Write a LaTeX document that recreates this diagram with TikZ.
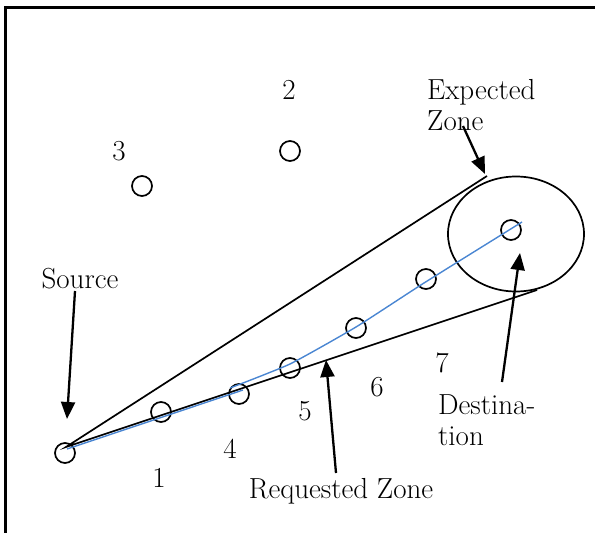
\documentclass[tikz,border=0pt]{standalone}
\usepackage{tikz}
\usetikzlibrary{arrows.meta,shapes.geometric}
\definecolor{routeblue}{RGB}{74,134,210}

\begin{document}
\begin{tikzpicture}[x=1pt,y=-1pt,
  host/.style={circle,draw,line width=1.7pt,minimum size=20pt,inner sep=0pt},
  lbl/.style={font=\fontsize{29}{31}\selectfont,inner sep=0pt},
  pointer/.style={line width=2.3pt,-{Triangle[length=17pt,width=14pt]}}]
\useasboundingbox (0,0) rectangle (595,533);
\begin{scope}
\clip (0,0) rectangle (595,533);
\draw[line width=3pt] (5,7) rectangle (640,580);
\end{scope}
\node[host] (src) at (65,453) {};
\node[host] (n1) at (161,412) {};
\node[host] (n4) at (239,394) {};
\node[host] (n5) at (290,368) {};
\node[host] (n6) at (356,328) {};
\node[host] (n7) at (426,279) {};
\node[host] (dst) at (511,230) {};
\node[host] (n3) at (142,186) {};
\node[host] (n2) at (290,151) {};
\node[draw,ellipse,line width=1.7pt,minimum width=136pt,minimum height=115pt] (zone) at (516,234) {};
\node[lbl] (l2) at (289,90) {2};
\node[lbl] (l3) at (119,151) {3};
\node[lbl] (l1) at (159,478) {1};
\node[lbl] (l4) at (230,449) {4};
\node[lbl] (l5) at (305,411) {5};
\node[lbl] (l6) at (377,387) {6};
\node[lbl] (l7) at (442,363) {7};
\node[lbl] (lsrc) at (80,279) {Source};
\node[lbl,align=left,anchor=west] (lexp) at (427,105) {Expected\\Zone};
\node[lbl,align=left,anchor=west] (ldst) at (438,420) {Destina-\\tion};
\node[lbl] (lreq) at (341,491) {Requested Zone};
\coordinate (apex) at (66,447);
\coordinate (topend) at (487,176);
\coordinate (botend) at (537,290);
\draw[line width=1.7pt] (topend) -- (apex) -- (botend);
\draw[routeblue,line width=1.4pt] (67,449) -- (243,390);
\draw[routeblue,line width=1.4pt] plot[smooth,tension=0.3] coordinates {(230,388) (290,364) (356,327) (424,283) (522,222)};
\draw[pointer] (75,291) -- (67,419);
\draw[pointer] (463,126) -- (485,174);
\draw[pointer] (502,382) -- (520,253);
\draw[pointer] (336,473) -- (326,360);
\end{tikzpicture}
\end{document}
